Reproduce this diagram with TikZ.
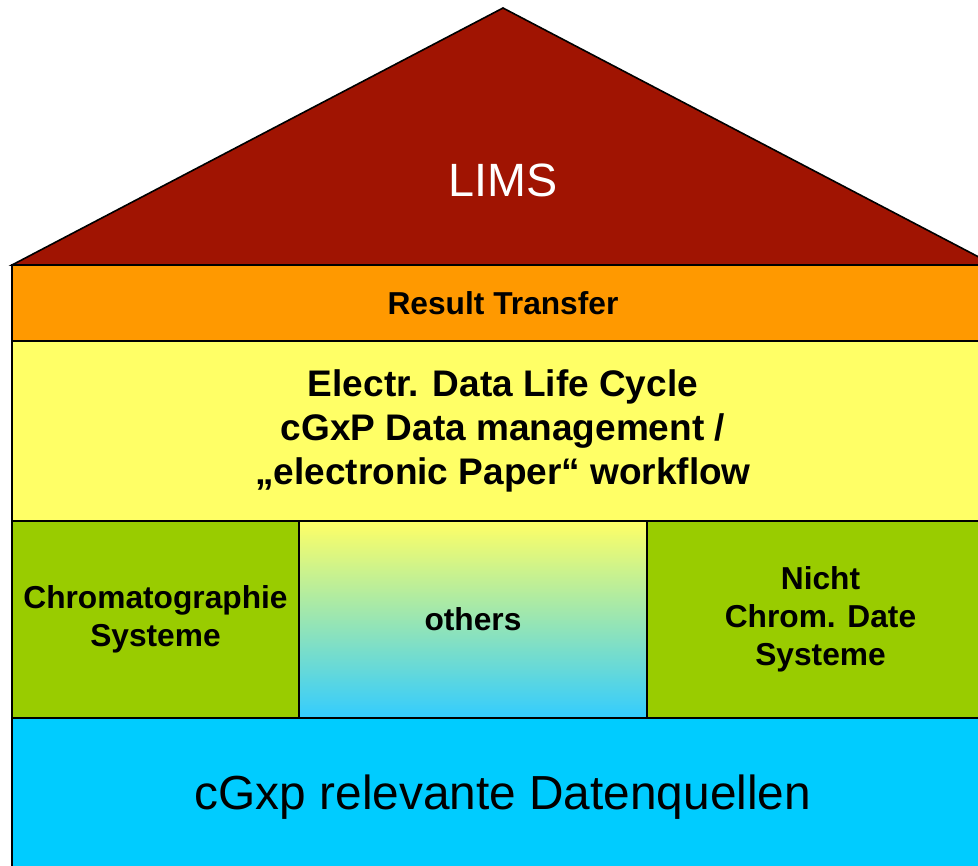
\documentclass[tikz,border=0pt]{standalone}
\usepackage{fontspec}
\setmainfont{Liberation Sans}
\definecolor{roofred}{RGB}{160,20,2}
\definecolor{resultorange}{RGB}{255,153,0}
\definecolor{cycleyellow}{RGB}{255,255,102}
\definecolor{systemgreen}{RGB}{153,204,0}
\definecolor{sourceblue}{RGB}{0,204,255}
\definecolor{othersblue}{RGB}{51,204,255}
\tikzset{
  layer/.style={draw=black, line width=1.6pt, rectangle, inner sep=0pt, outer sep=0pt,
    anchor=north west, align=center, font=\bfseries\fontsize{31.7}{38}\selectfont},
}

\begin{document}
\begin{tikzpicture}[x=1pt,y=-1pt]
	%%%%% START %%%%%
	\useasboundingbox (0,0) rectangle (978,866);
	\clip (0,0) rectangle (978,866);
	
	% roof
	\draw[fill=roofred, line width=1.6pt] (12,265) -- (503,8) -- (994,265) -- cycle;
	\node[text=white, font=\fontsize{46.7}{56}\selectfont] (lims) at (503,180) {LIMS};
	
	% layers
	\node[layer, fill=resultorange, minimum width=982, minimum height=76] (result) at (12,265) {Result Transfer};
	\node[layer, fill=cycleyellow, minimum width=982, minimum height=180,
	      font=\bfseries\fontsize{37}{44}\selectfont] (cycle) at (12,341)
	      {Electr. Data Life Cycle\\cGxP Data management /\\„electronic Paper“ workflow};
	
	\node[layer, fill=systemgreen, minimum width=287, minimum height=197] (chrom) at (12,521) {Chromatographie\\Systeme};
	\node[layer, top color=cycleyellow, bottom color=othersblue, minimum width=348, minimum height=197] (others) at (299,521) {others};
	\node[layer, fill=systemgreen, minimum width=347, minimum height=197] (nichtchrom) at (647,521) {Nicht\\Chrom. Date\\Systeme};
	
	\node[layer, fill=sourceblue, minimum width=982, minimum height=158,
	      font=\fontsize{47.8}{57}\selectfont] (sources) at (12,718) {cGxp relevante Datenquellen};
	%%%%% END %%%%%
\end{tikzpicture}
\end{document}
